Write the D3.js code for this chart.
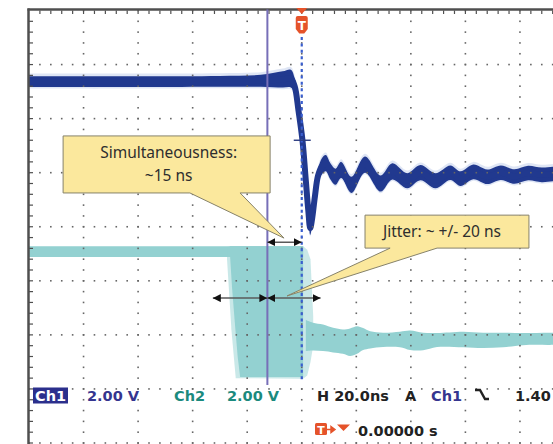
<!DOCTYPE html>
<html>
<head>
<meta charset="utf-8">
<script src="https://cdn.jsdelivr.net/npm/d3@7"></script>
<style>
  body { margin: 0; background: #fff; overflow: hidden; }
</style>
</head>
<body>
<script>
// scope settings: 20 ns/div, 2 V/div, trigger at screen centre
const timeDomain = [-100, 100];
const voltDomain = [-8, 8];

// Ch1 persistence trace: time (ns), centre (V), half band width (V)
const ch1T = [-100, -60, -30, -15, -7, -4, -2.6, -1.2, 0.26, 1.5, 2.4, 3.1, 3.8, 4.8, 6.0, 7.5, 8.8, 10.5, 12.4, 14.5, 18.2, 23.2, 28.9, 33.2, 38.7, 43.5, 49, 54.5, 58.2, 62.9, 68, 73, 78, 83, 88, 93, 100];
const ch1V = [5.37, 5.37, 5.38, 5.4, 5.45, 5.48, 5.2, 4.3, 3.2, 1.7, 0.6, -0.05, 0.3, 1.1, 1.9, 2.25, 2.35, 2.05, 1.85, 2.1, 1.55, 2.3, 1.6, 2.05, 1.7, 2.0, 1.7, 2.0, 1.78, 2.03, 1.85, 2.0, 1.86, 1.99, 1.92, 1.96, 1.96];
const ch1Spread = [0.2, 0.2, 0.2, 0.22, 0.3, 0.33, 0.3, 0.2, 0.15, 0.15, 0.2, 0.25, 0.25, 0.2, 0.25, 0.3, 0.3, 0.3, 0.3, 0.3, 0.3, 0.3, 0.3, 0.3, 0.28, 0.28, 0.28, 0.27, 0.27, 0.27, 0.27, 0.27, 0.27, 0.27, 0.27, 0.27, 0.27];

// Ch2 before the edge (high level band)
const ch2PreT = [-100, -60, -26, 0.5];
const ch2PreHi = [-0.72, -0.72, -0.72, -0.72];
const ch2PreLo = [-1.12, -1.12, -1.12, -1.12];

// Ch2 jitter region (many overlaid falling edges)
const ch2JitT = [-26.4, -25.6, -24.5, -23.5, -22.6, 0.5];
const ch2JitHi = [-0.72, -0.72, -0.72, -0.72, -0.72, -0.72];
const ch2JitLo = [-0.9, -2.2, -3.6, -4.8, -5.56, -5.56];

// faint outer edges of the jitter region
const ch2FaintT = [-27.4, -25.8, -24.2, 0.5, 2.0, 3.2, 4.2];
const ch2FaintHi = [-0.75, -0.72, -0.72, -0.72, -0.85, -1.2, -3.3];
const ch2FaintLo = [-1.2, -3.8, -5.6, -5.62, -5.5, -5.0, -4.4];

// Ch2 after the edge
const ch2PostT = [1.5, 4.1, 7.8, 11.5, 15.1, 17.7, 20.3, 22.5, 25.1, 29.8, 36.0, 39.7, 44.5, 49.6, 59.2, 66.5, 73.8, 81.1, 91.0, 100];
const ch2PostHi = [-3.45, -3.55, -3.62, -3.74, -3.8, -3.76, -3.68, -3.75, -3.87, -3.92, -3.88, -3.84, -3.92, -3.93, -3.88, -3.92, -3.92, -3.93, -3.92, -3.92];
const ch2PostLo = [-4.6, -4.58, -4.6, -4.65, -4.7, -4.78, -4.7, -4.56, -4.5, -4.45, -4.46, -4.56, -4.57, -4.45, -4.46, -4.49, -4.46, -4.38, -4.37, -4.37];

// markers and annotations (ns / V)
const cursorT = -12.6;
const cursorEndV = -5.85;
const trigLevelV = 3.2;
const trigLineEndV = -5.68;
const simArrow = { v: -0.57, t: [cursorT, 0] };
const jitArrow = { v: -2.64, t: [-32.6, cursorT, 6.9] };
const callouts = [
  { lines: ["Simultaneousness:", "~15 ns"], t: [-87.5, -11.6], v: [3.36, 1.25], base: [-41.0, -22.6], tip: [-6.5, -0.42], dx: 2 },
  { lines: ["Jitter: ~ +/- 20 ns"], t: [23.2, 83.3], v: [0.43, -0.79], base: [32.4, 49.6], tip: [-5.4, -2.56], dx: -5 }
];

// readout texts
const readRow1 = [
  { text: "2.00 V", x: 87, color: "#35358f" },
  { text: "Ch2", x: 174, color: "#1b8a7e" },
  { text: "2.00 V", x: 227, color: "#1b8a7e" },
  { text: "H 20.0ns", x: 317, color: "#222" },
  { text: "A", x: 405, color: "#222" },
  { text: "Ch1", x: 431, color: "#35358f" },
  { text: "1.40", x: 515, color: "#222" }
];
const trigPosText = "0.00000 s";

const width = 553, height = 444;

const svg = d3.select("body").append("svg")
  .attr("width", width)
  .attr("height", height);

const x = d3.scaleLinear().domain(timeDomain).range([29, 574.5]);
const y = d3.scaleLinear().domain(voltDomain).range([443, 10.5]);

const curve = d3.curveCatmullRom.alpha(0.5);

// ---- traces ----
const ch2Color = "#93d1d1";

function band(ts, his, los, c) {
  return d3.area()
    .x((d, i) => x(ts[i]))
    .y0((d, i) => y(los[i]))
    .y1((d, i) => y(his[i]))
    .curve(c || curve)(ts);
}

svg.append("path")
  .attr("d", band(ch2PreT, ch2PreHi, ch2PreLo))
  .attr("fill", ch2Color);

svg.append("path")
  .attr("d", band(ch2FaintT, ch2FaintHi, ch2FaintLo, d3.curveLinear))
  .attr("fill", ch2Color)
  .attr("opacity", 0.5);

svg.append("path")
  .attr("d", band(ch2JitT, ch2JitHi, ch2JitLo, d3.curveLinear))
  .attr("fill", ch2Color);

svg.append("path")
  .attr("d", band(ch2PostT, ch2PostHi, ch2PostLo))
  .attr("fill", ch2Color);

// ch1: faint halo, band, and line for the steep edge
svg.append("path")
  .attr("d", band(ch1T, ch1V.map((v, i) => v + ch1Spread[i] + 0.1), ch1V.map((v, i) => v - ch1Spread[i] - 0.06)))
  .attr("fill", "#6f8bd0")
  .attr("opacity", 0.22);

svg.append("path")
  .attr("d", band(ch1T, ch1V.map((v, i) => v + ch1Spread[i]), ch1V.map((v, i) => v - ch1Spread[i])))
  .attr("fill", "#21398f");

svg.append("path")
  .attr("d", d3.line()
    .x((d, i) => x(ch1T[i]))
    .y((d, i) => y(ch1V[i]))
    .curve(curve)(ch1T))
  .attr("fill", "none")
  .attr("stroke", "#21398f")
  .attr("stroke-width", 6);

// ---- graticule ----
const majorT = d3.range(-100, 100.1, 20);
const majorV = d3.range(-8, 8.1, 2);
const minorT = d3.range(-100, 100.1, 4);
const minorV = d3.range(-8, 8.1, 0.4);

const grid = svg.append("g").attr("fill", "#666");
majorT.slice(1).forEach((t) => {
  grid.selectAll(null)
    .data(minorV)
    .enter()
    .append("rect")
    .attr("x", x(t) - 0.8)
    .attr("y", (v) => y(v) - 0.8)
    .attr("width", 1.6)
    .attr("height", 1.6);
});
majorV.slice(0, -1).forEach((v) => {
  grid.selectAll(null)
    .data(minorT)
    .enter()
    .append("rect")
    .attr("x", (t) => x(t) - 0.8)
    .attr("y", y(v) - 0.8)
    .attr("width", 1.6)
    .attr("height", 1.6);
});

// frame with ticks
const frame = svg.append("g").attr("stroke", "#4f4f4f");
frame.append("line")
  .attr("x1", x(-100) - 1.5).attr("x2", width)
  .attr("y1", y(8) - 1).attr("y2", y(8) - 1)
  .attr("stroke-width", 2.5);
frame.append("line")
  .attr("x1", x(-100) - 0.5).attr("x2", x(-100) - 0.5)
  .attr("y1", y(8) - 2).attr("y2", height)
  .attr("stroke-width", 2.5);
frame.selectAll(".tt")
  .data(minorT.slice(1))
  .enter()
  .append("line")
  .attr("x1", (t) => x(t)).attr("x2", (t) => x(t))
  .attr("y1", y(8)).attr("y2", y(8) + 3.5)
  .attr("stroke-width", 1.2);
frame.selectAll(".lt")
  .data(minorV.slice(0, -1))
  .enter()
  .append("line")
  .attr("x1", x(-100)).attr("x2", x(-100) + 4)
  .attr("y1", (v) => y(v)).attr("y2", (v) => y(v))
  .attr("stroke-width", 1.2);

// ---- cursor, trigger line, trigger level ----
svg.append("line")
  .attr("x1", x(cursorT)).attr("x2", x(cursorT))
  .attr("y1", y(8) - 1).attr("y2", y(cursorEndV))
  .attr("stroke", "#776fb8")
  .attr("stroke-width", 2);

svg.append("line")
  .attr("x1", x(0)).attr("x2", x(0))
  .attr("y1", 37).attr("y2", y(trigLineEndV))
  .attr("stroke", "#3a5fcf")
  .attr("stroke-width", 2.2)
  .attr("stroke-dasharray", "3,3.4");

svg.append("line")
  .attr("x1", x(0) - 8).attr("x2", x(0) + 9)
  .attr("y1", y(trigLevelV)).attr("y2", y(trigLevelV))
  .attr("stroke", "#2a3a80")
  .attr("stroke-width", 1.4);

// ---- measurement arrows ----
const defs = svg.append("defs");
["start", "end"].forEach((k) => {
  defs.append("marker")
    .attr("id", "ah-" + k)
    .attr("viewBox", "0 0 10 10")
    .attr("refX", 10).attr("refY", 5)
    .attr("markerWidth", 8).attr("markerHeight", 8)
    .attr("markerUnits", "userSpaceOnUse")
    .attr("orient", k === "end" ? "auto" : "auto-start-reverse")
    .append("path")
    .attr("d", "M0,0L10,5L0,10Z")
    .attr("fill", "#111");
});

function dblArrow(t1, t2, v) {
  svg.append("line")
    .attr("x1", x(t1)).attr("x2", x(t2))
    .attr("y1", y(v)).attr("y2", y(v))
    .attr("stroke", "#5a5a5a")
    .attr("stroke-width", 1.5)
    .attr("marker-start", "url(#ah-start)")
    .attr("marker-end", "url(#ah-end)");
}
dblArrow(simArrow.t[0], simArrow.t[1], simArrow.v);
dblArrow(jitArrow.t[0], jitArrow.t[1], jitArrow.v);
dblArrow(jitArrow.t[1], jitArrow.t[2], jitArrow.v);

// ---- callouts ----
callouts.forEach((c) => {
  const l = x(c.t[0]), r = x(c.t[1]), tp = y(c.v[0]), bt = y(c.v[1]);
  const p = d3.path();
  p.moveTo(l, tp);
  p.lineTo(r, tp);
  p.lineTo(r, bt);
  p.lineTo(x(c.base[1]), bt);
  p.lineTo(x(c.tip[0]), y(c.tip[1]));
  p.lineTo(x(c.base[0]), bt);
  p.lineTo(l, bt);
  p.closePath();
  svg.append("path")
    .attr("d", p.toString())
    .attr("fill", "#fbe89d")
    .attr("stroke", "#86826a")
    .attr("stroke-width", 1);
  const cx = (l + r) / 2 + c.dx, cy = (tp + bt) / 2;
  const lh = 23;
  c.lines.forEach((s, i) => {
    svg.append("text")
      .attr("x", cx)
      .attr("y", cy + (i - (c.lines.length - 1) / 2) * lh + 5.5)
      .attr("text-anchor", "middle")
      .attr("font-family", "Noto Sans, sans-serif")
      .attr("font-size", 15.5)
      .attr("fill", "#2e2e2e")
      .text(s);
  });
});

// ---- trigger marker at top ----
const tx = x(0);
svg.append("path")
  .attr("d", `M${tx - 5.5},8L${tx + 5.5},8L${tx},14Z`)
  .attr("fill", "#e5532a");
svg.append("path")
  .attr("d", `M${tx - 6},18Q${tx - 6},16 ${tx - 4},16L${tx + 4},16Q${tx + 6},16 ${tx + 6},18L${tx + 6},29L${tx + 2.5},33.5L${tx - 2.5},33.5L${tx - 6},29Z`)
  .attr("fill", "#e5532a");
svg.append("text")
  .attr("x", tx).attr("y", 29.5)
  .attr("text-anchor", "middle")
  .attr("font-family", "DejaVu Sans, sans-serif")
  .attr("font-weight", "bold")
  .attr("font-size", 12)
  .attr("fill", "#fff")
  .text("T");

// ---- readout ----
const rowY = 400.5, row2Y = 435.5;
const readFont = (sel) => sel
  .attr("font-family", "DejaVu Sans, sans-serif")
  .attr("font-weight", "bold")
  .attr("font-size", 14.5);

svg.append("rect")
  .attr("x", 33).attr("y", 387.5)
  .attr("width", 35).attr("height", 16)
  .attr("fill", "#2b2f8c");
svg.append("text")
  .attr("x", 35).attr("y", rowY)
  .attr("fill", "#fff")
  .call(readFont)
  .text("Ch1");

readRow1.forEach((d) => {
  svg.append("text")
    .attr("x", d.x).attr("y", rowY)
    .attr("fill", d.color)
    .call(readFont)
    .text(d.text);
});

// falling slope symbol
svg.append("path")
  .attr("d", "M475,390L480,390L485,399L489,399")
  .attr("fill", "none")
  .attr("stroke", "#222")
  .attr("stroke-width", 2.4);

// trigger position readout
svg.append("rect")
  .attr("x", 315).attr("y", 423)
  .attr("width", 12).attr("height", 12)
  .attr("rx", 1.5)
  .attr("fill", "#e5532a");
svg.append("text")
  .attr("x", 321).attr("y", 433.5)
  .attr("text-anchor", "middle")
  .attr("font-family", "DejaVu Sans, sans-serif")
  .attr("font-weight", "bold")
  .attr("font-size", 11)
  .attr("fill", "#fff")
  .text("T");
svg.append("path")
  .attr("d", "M327,429.5L333,429.5M331,426.5L335,429.5L331,432.5Z")
  .attr("fill", "#e5532a")
  .attr("stroke", "#e5532a")
  .attr("stroke-width", 1.4);
svg.append("path")
  .attr("d", "M337,424.5L350,424.5L343.5,431Z")
  .attr("fill", "#e5532a");
svg.append("text")
  .attr("x", 358).attr("y", row2Y)
  .attr("fill", "#222")
  .call(readFont)
  .text(trigPosText);
</script>
</body>
</html>
